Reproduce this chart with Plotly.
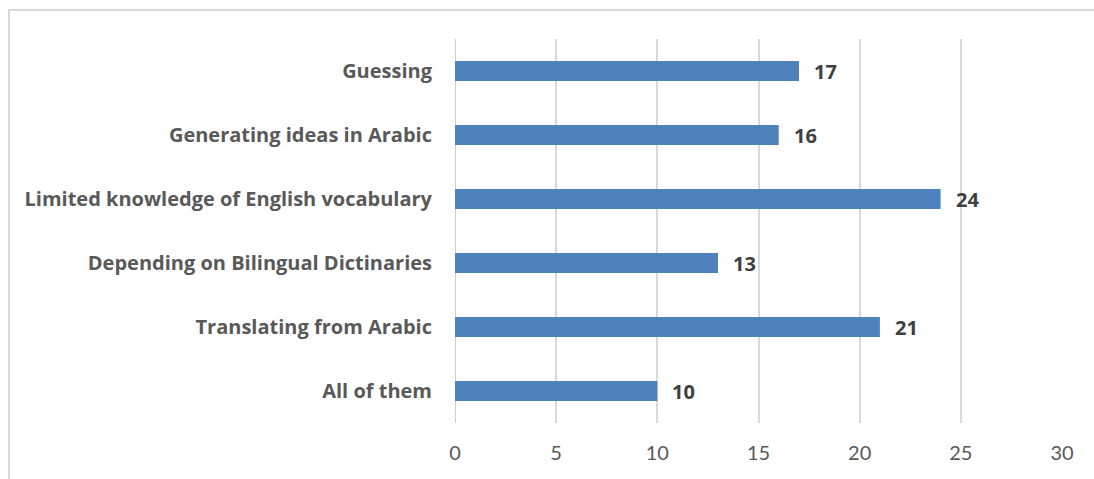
import plotly.graph_objects as go

categories = [
    "All of them",
    "Translating from Arabic",
    "Depending on Bilingual Dictinaries",
    "Limited knowledge of English vocabulary",
    "Generating ideas in Arabic",
    "Guessing",
]
values = [10, 21, 13, 24, 16, 17]
x_ticks = [0, 5, 10, 15, 20, 25, 30]

W, H = 1094, 479
L, R, T, B = 455, 32, 39, 56

LABEL_FONT = "Open Sans"
TICK_FONT = "Lato"
bar_color = "#4F81BD"
label_gray = "#595959"
value_gray = "#404040"
grid_gray = "#D9D9D9"

fig = go.Figure(
    go.Bar(
        x=values,
        y=categories,
        orientation="h",
        marker=dict(color=bar_color, line=dict(width=0)),
        width=0.31,
        hoverinfo="x+y",
    )
)

# value labels just past the bar ends
for cat, val in zip(categories, values):
    fig.add_annotation(
        x=val, y=cat, text=f"<b>{val}</b>", showarrow=False,
        xanchor="left", xshift=13,
        font=dict(family=LABEL_FONT, size=20, color=value_gray),
    )

# outer chart frame (open at right and bottom edges of the page)
pw, ph = W - L - R, H - T - B
fig.add_shape(
    type="rect", xref="paper", yref="paper",
    x0=(9 - L) / pw, x1=(W + 20 - L) / pw,
    y0=-(H + 20 - T - ph) / ph, y1=1 + (T - 10) / ph,
    line=dict(color=grid_gray, width=2), fillcolor="rgba(0,0,0,0)", layer="below",
)

fig.update_layout(
    width=W, height=H,
    margin=dict(l=L, r=R, t=T, b=B, pad=0),
    paper_bgcolor="white", plot_bgcolor="white",
    showlegend=False,
    xaxis=dict(
        range=[0, 30], tickvals=x_ticks, ticktext=[str(t) for t in x_ticks],
        showgrid=True, gridcolor=grid_gray, gridwidth=1.5,
        zeroline=False, showline=False, ticks="",
        tickfont=dict(family=TICK_FONT, size=20, color=label_gray),
        ticklabelstandoff=16,
        fixedrange=True,
    ),
    yaxis=dict(
        categoryorder="array", categoryarray=categories,
        showgrid=False, zeroline=False, showline=False, ticks="",
        tickfont=dict(family=LABEL_FONT, size=20, color=label_gray, weight="bold"),
        ticklabelstandoff=22,
        fixedrange=True,
    ),
)

# y axis line at zero
fig.add_shape(
    type="line", xref="x", yref="paper", x0=0, x1=0, y0=0, y1=1,
    line=dict(color="#BFBFBF", width=1.5), layer="below",
)

fig.write_html("out.html")
